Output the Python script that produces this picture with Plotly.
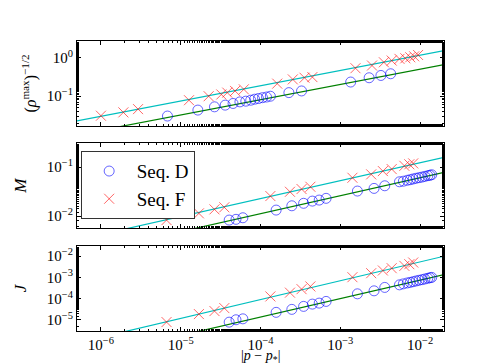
import plotly.graph_objects as go
from plotly.subplots import make_subplots

# --- panel 1: (rho^max)^(-1/2) ---
top_x_d = [6.82e-6, 1.64e-5, 2.65e-5, 3.61e-5, 4.53e-5, 5.52e-5, 6.54e-5, 7.54e-5, 8.44e-5,
           9.44e-5, 1.06e-4, 1.19e-4, 1.33e-4, 2.27e-4, 3.27e-4, 1.35e-3, 2.30e-3, 3.23e-3, 4.28e-3]
top_y_d = [0.0307, 0.0438, 0.0532, 0.0588, 0.0650, 0.0714, 0.0745, 0.0789, 0.0838,
           0.0873, 0.0916, 0.0953, 0.100, 0.124, 0.137, 0.233, 0.301, 0.345, 0.382]
top_x_f = [1.0e-6, 1.91e-6, 2.92e-6, 1.27e-5, 2.24e-5, 3.23e-5, 3.83e-5, 4.80e-5, 6.18e-5,
           1.62e-4, 2.54e-4, 3.56e-4, 4.47e-4, 1.55e-3, 2.50e-3, 3.52e-3, 4.41e-3, 5.52e-3,
           6.54e-3, 7.54e-3, 8.44e-3, 9.44e-3]
top_y_f = [0.0313, 0.0382, 0.0464, 0.0789, 0.100, 0.111, 0.124, 0.137, 0.151,
           0.212, 0.273, 0.301, 0.313, 0.532, 0.624, 0.757, 0.838, 0.927,
           0.960, 1.02, 1.08, 1.17]

# --- panels 2 and 3 share the same p values ---
x_d = [4.05e-5, 4.93e-5, 6.01e-5, 1.57e-4, 2.47e-4, 3.47e-4, 4.47e-4, 5.44e-4, 6.64e-4,
       1.64e-3, 2.65e-3, 3.61e-3, 5.52e-3, 6.18e-3, 6.92e-3, 7.54e-3, 8.20e-3, 8.93e-3,
       9.72e-3, 1.06e-2, 1.15e-2, 1.25e-2, 1.33e-2, 1.40e-2]
x_f = [6.64e-6, 1.69e-5, 2.65e-5, 3.52e-5, 1.33e-4, 2.34e-4, 3.27e-4, 4.22e-4,
       1.42e-3, 2.44e-3, 3.42e-3, 4.41e-3, 6.36e-3, 7.33e-3, 8.20e-3]

m_y_d = [8.28e-3, 8.57e-3, 9.23e-3, 0.01324, 0.0162, 0.0182, 0.0202, 0.0212, 0.0230,
         0.0324, 0.0367, 0.0415, 0.0501, 0.0515, 0.0538, 0.0553, 0.0572, 0.0591,
         0.0608, 0.0625, 0.0646, 0.0667, 0.0680, 0.0697]
m_y_f = [8.28e-3, 0.01135, 0.0137, 0.0151, 0.0256, 0.0313, 0.0356, 0.0396,
         0.0605, 0.0710, 0.0828, 0.0910, 0.106, 0.114, 0.119]

j_y_d = [7.88e-6, 1.02e-5, 1.13e-5, 2.28e-5, 3.15e-5, 4.35e-5, 5.57e-5, 6.21e-5, 7.46e-5,
         1.70e-4, 2.35e-4, 3.40e-4, 4.50e-4, 5.01e-4, 5.52e-4, 5.89e-4, 6.35e-4, 6.85e-4,
         7.39e-4, 7.89e-4, 8.51e-4, 9.17e-4, 9.68e-4, 1.01e-3]
j_y_f = [7.96e-6, 1.89e-5, 2.62e-5, 3.62e-5, 1.28e-4, 1.93e-4, 2.82e-4, 3.78e-4,
         1.03e-3, 1.59e-3, 2.13e-3, 2.73e-3, 3.51e-3, 4.21e-3, 5.06e-3]

# power-law fits, given by their end values at the x-range limits
fit_x = [5e-7, 2e-2]
top_fit_d = [0.0100, 0.662]
top_fit_f = [0.0229, 1.51]
m_fit_d = [1.60e-3, 0.078]
m_fit_f = [3.27e-3, 0.158]
j_fit_d = [1.38e-7, 1.35e-3]
j_fit_f = [8.3e-7, 1.0e-2]

x_ticks = [1e-6, 1e-5, 1e-4, 1e-3, 1e-2]
x_ticktext = ["10<sup>−6</sup>", "10<sup>−5</sup>", "10<sup>−4</sup>", "10<sup>−3</sup>", "10<sup>−2</sup>"]

COL = {
    "d": "rgba(0,0,255,0.6)",
    "f": "rgba(255,0,0,0.6)",
    "fit_d": "#008000",
    "fit_f": "#00bfbf",
}
FONT = "Liberation Serif"

fig = make_subplots(rows=3, cols=1, shared_xaxes=True)

panels = [
    (1, top_x_d, top_y_d, top_x_f, top_y_f, top_fit_d, top_fit_f),
    (2, x_d, m_y_d, x_f, m_y_f, m_fit_d, m_fit_f),
    (3, x_d, j_y_d, x_f, j_y_f, j_fit_d, j_fit_f),
]
for row, xd, yd, xf, yf, fd, ff in panels:
    fig.add_trace(go.Scatter(x=fit_x, y=ff, mode="lines", line=dict(color=COL["fit_f"], width=1.2),
                             showlegend=False), row=row, col=1)
    fig.add_trace(go.Scatter(x=fit_x, y=fd, mode="lines", line=dict(color=COL["fit_d"], width=1.2),
                             showlegend=False), row=row, col=1)
    fig.add_trace(go.Scatter(x=xd, y=yd, mode="markers", name="Seq. D",
                             marker=dict(symbol="circle-open", size=10, color=COL["d"], line=dict(width=1)),
                             showlegend=(row == 1)), row=row, col=1)
    fig.add_trace(go.Scatter(x=xf, y=yf, mode="markers", name="Seq. F",
                             marker=dict(symbol="x-thin-open", size=10, color=COL["f"], line=dict(width=1, color=COL["f"])),
                             showlegend=(row == 1)), row=row, col=1)

axis_common = dict(
    type="log", showline=True, linecolor="black", linewidth=1, mirror="allticks",
    ticks="inside", ticklen=4, tickcolor="black", showgrid=False, zeroline=False,
    tickfont=dict(family=FONT, size=15, color="black"),
    minor=dict(ticks="inside", ticklen=2, tickcolor="black", showgrid=False),
)

for i in (1, 2, 3):
    fig.update_xaxes(axis_common, range=[-6.30, -1.70], tickvals=x_ticks, ticktext=x_ticktext,
                     showticklabels=(i == 3), ticklabelstandoff=0, row=i, col=1)

fig.update_yaxes(axis_common, row=1, col=1, range=[-1.77, 0.43], domain=[0.707, 1.0],
                 tickvals=[1e-1, 1e0], ticktext=["10<sup>−1</sup>", "10<sup>0</sup>"],
                 title=dict(text="(<i>ρ</i><sup>max</sup>)<sup>−1/2</sup>", font=dict(family=FONT, size=16),
                            standoff=6))
fig.update_yaxes(axis_common, row=2, col=1, range=[-2.245, -0.51], domain=[0.355, 0.648],
                 tickvals=[1e-2, 1e-1], ticktext=["10<sup>−2</sup>", "10<sup>−1</sup>"],
                 title=dict(text="<i>M</i>", font=dict(family=FONT, size=17)))
fig.update_yaxes(axis_common, row=3, col=1, range=[-5.52, -1.52], domain=[0.0, 0.293],
                 tickvals=[1e-5, 1e-4, 1e-3, 1e-2],
                 ticktext=["10<sup>−5</sup>", "10<sup>−4</sup>", "10<sup>−3</sup>", "10<sup>−2</sup>"],
                 title=dict(text="<i>J</i>", font=dict(family=FONT, size=17)))

# x-axis label placed as paper annotation so it stays inside the small canvas
fig.add_annotation(text="|<i>p</i> − <i>p</i><sub>*</sub>|", xref="paper", yref="paper",
                   x=0.5, y=-0.088, xanchor="center", yanchor="middle", showarrow=False,
                   font=dict(family=FONT, size=14, color="black"))

fig.update_layout(
    width=485, height=363,
    margin=dict(l=60, r=49, t=33, b=40),
    plot_bgcolor="white", paper_bgcolor="white",
    font=dict(family=FONT, color="black"),
    legend=dict(x=0.01, y=0.62, xanchor="left", yanchor="top",
                bgcolor="white", bordercolor="#333333", borderwidth=1,
                font=dict(family=FONT, size=19), itemwidth=45),
)

fig.write_html("out.html")
